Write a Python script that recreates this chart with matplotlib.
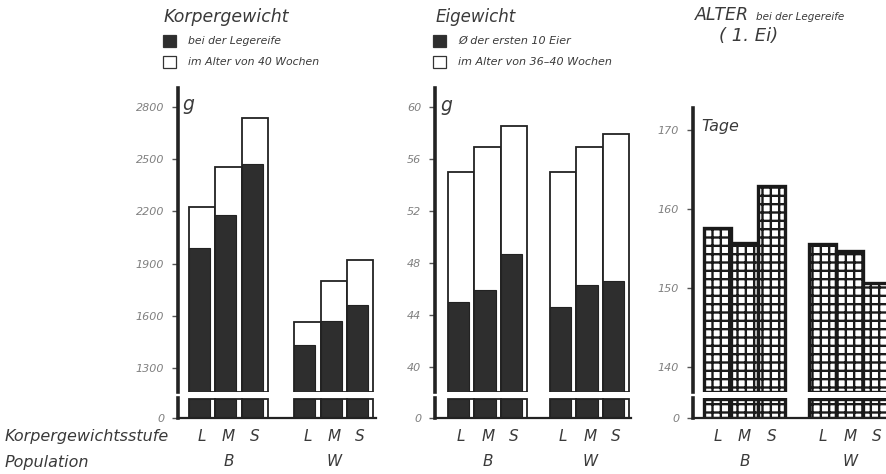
import numpy as np
import matplotlib
matplotlib.use('Agg')
import matplotlib.pyplot as plt
from matplotlib.patches import Rectangle

plt.rcParams['font.family'] = 'DejaVu Sans'
plt.rcParams['font.style'] = 'italic'
plt.rcParams['hatch.linewidth'] = 1.7

# ---------------- data ----------------
stufen = ['L', 'M', 'S']
populationen = ['B', 'W']

# Koerpergewicht (g)
kg_legereife = [1990, 2180, 2470, 1430, 1570, 1660]
kg_40wochen = [2225, 2455, 2740, 1565, 1800, 1920]
kg_ticks = [1300, 1600, 1900, 2200, 2500, 2800]

# Eigewicht (g)
ei_erste10 = [45.0, 45.9, 48.7, 44.6, 46.3, 46.6]
ei_36_40 = [55.0, 56.9, 58.5, 55.0, 56.9, 57.9]
ei_ticks = [40, 44, 48, 52, 56, 60]

# Alter bei der Legereife (Tage)
alter_tage = [157.6, 155.7, 162.9, 155.6, 154.7, 150.6]
alter_ticks = [140, 150, 160, 170]

# ---------------- layout helpers ----------------
W, H = 887, 474
fig = plt.figure(figsize=(W / 100, H / 100), dpi=100)
dark = '#2e2e2e'
txt = '#3a3a3a'
tick_col = '#808080'


def box(x0, x1, y0, y1):
    return [x0 / W, 1 - y1 / H, (x1 - x0) / W, (y1 - y0) / H]


def panel(xs, xr, yt, ylim, xlim, ticks, offset):
    top = fig.add_axes(box(xs, xr, yt, 392))
    bot = fig.add_axes(box(xs, xr, 398, 418))
    for ax in (top, bot):
        ax.set_xlim(xlim)
        for s in ('top', 'right'):
            ax.spines[s].set_visible(False)
        ax.spines['left'].set_linewidth(2.6)
        ax.spines['left'].set_color('#222')
        ax.tick_params(axis='y', length=4, width=1, color='#555',
                       labelsize=8, labelcolor=tick_col, pad=6)
    top.spines['bottom'].set_visible(False)
    top.set_xticks([])
    top.set_ylim(ylim)
    top.set_yticks(ticks)
    bot.set_ylim(0, 1.04)
    bot.set_yticks([0])
    bot.spines['bottom'].set_linewidth(1.6)
    bot.spines['bottom'].set_color('#222')
    x = np.array([0, 1, 2, offset, offset + 1, offset + 2])
    bot.set_xticks(x, stufen * 2)
    bot.tick_params(axis='x', length=0, pad=8, labelsize=11, labelcolor=txt)
    for gx, name in zip([1, offset + 1], populationen):
        bot.annotate(name, xy=(gx, 0), xycoords=('data', 'axes fraction'),
                     xytext=(0, -44), textcoords='offset pixels',
                     ha='center', va='center', fontsize=11, color=txt)
    return top, bot, x


def pair_bars(top, bot, x, dark_vals, white_vals):
    lo = top.get_ylim()[0]
    wv = np.array(white_vals)
    dv = np.array(dark_vals)
    top.bar(x - 0.5, wv - lo, bottom=lo, width=1.0, align='edge',
            facecolor='white', edgecolor='#222', linewidth=1.3)
    top.bar(x - 0.5, dv - lo, bottom=lo, width=0.8, align='edge',
            facecolor=dark, edgecolor='#222', linewidth=0.8)
    bot.bar(x - 0.5, np.minimum(wv, 1.0), width=1.0, align='edge',
            facecolor='white', edgecolor='#222', linewidth=1.3)
    bot.bar(x - 0.5, np.minimum(dv, 1.0), width=0.8, align='edge',
            facecolor=dark, edgecolor='#222', linewidth=0.8)


# ---------------- panel 1: Koerpergewicht ----------------
t1, b1, x1 = panel(178, 376, 88, (1161, 2910), (-0.92, 6.61), kg_ticks, 4.0)
pair_bars(t1, b1, x1, kg_legereife, kg_40wochen)

# ---------------- panel 2: Eigewicht ----------------
t2, b2, x2 = panel(435, 631, 88, (38.08, 61.46), (-0.99, 6.41), ei_ticks, 3.85)
pair_bars(t2, b2, x2, ei_erste10, ei_36_40)

# ---------------- panel 3: Alter ----------------
t3, b3, x3 = panel(693, 887, 108, (136.84, 172.78), (-0.91, 6.28), alter_ticks, 3.9)
lo3 = t3.get_ylim()[0]
av = np.array(alter_tage)
t3.bar(x3 - 0.5, av - lo3, bottom=lo3, width=1.0, align='edge',
       facecolor='white', edgecolor='#1a1a1a', hatch='++', linewidth=2.4)
b3.bar(x3 - 0.5, np.minimum(av, 1.0), width=1.0, align='edge',
       facecolor='white', edgecolor='#1a1a1a', hatch='++', linewidth=2.4)

# ---------------- titles, legends, unit labels ----------------
def ftext(x, y, s, **kw):
    kw.setdefault('color', txt)
    kw.setdefault('va', 'center')
    fig.text(x / W, 1 - y / H, s, **kw)


def fsquare(x, y, fc):
    fig.add_artist(Rectangle((x / W, 1 - (y + 12) / H), 13 / W, 12 / H,
                             transform=fig.transFigure, facecolor=fc,
                             edgecolor='#333', linewidth=0.9))


ftext(164, 17, 'Korpergewicht', fontsize=12.5)
fsquare(163, 35, dark)
fsquare(163, 56, 'white')
ftext(188, 41, 'bei der Legereife', fontsize=7.8)
ftext(188, 62, 'im Alter von 40 Wochen', fontsize=7.8)

ftext(436, 17, 'Eigewicht', fontsize=12)
fsquare(433, 35, dark)
fsquare(433, 56, 'white')
ftext(458, 41, 'Ø der ersten 10 Eier', fontsize=8)
ftext(458, 62, 'im Alter von 36–40 Wochen', fontsize=8)

ftext(695, 15, 'ALTER', fontsize=12.5)
ftext(756, 17, 'bei der Legereife', fontsize=7.5)
ftext(719, 36, '( 1. Ei)', fontsize=13)

ftext(182, 104, 'g', fontsize=13.5)
ftext(440, 106, 'g', fontsize=13.5)
ftext(701, 127, 'Tage', fontsize=11.5)

ftext(5, 437, 'Korpergewichtsstufe', fontsize=11.5)
ftext(5, 462, 'Population', fontsize=11.5)

fig.savefig('out.png', dpi=100)
